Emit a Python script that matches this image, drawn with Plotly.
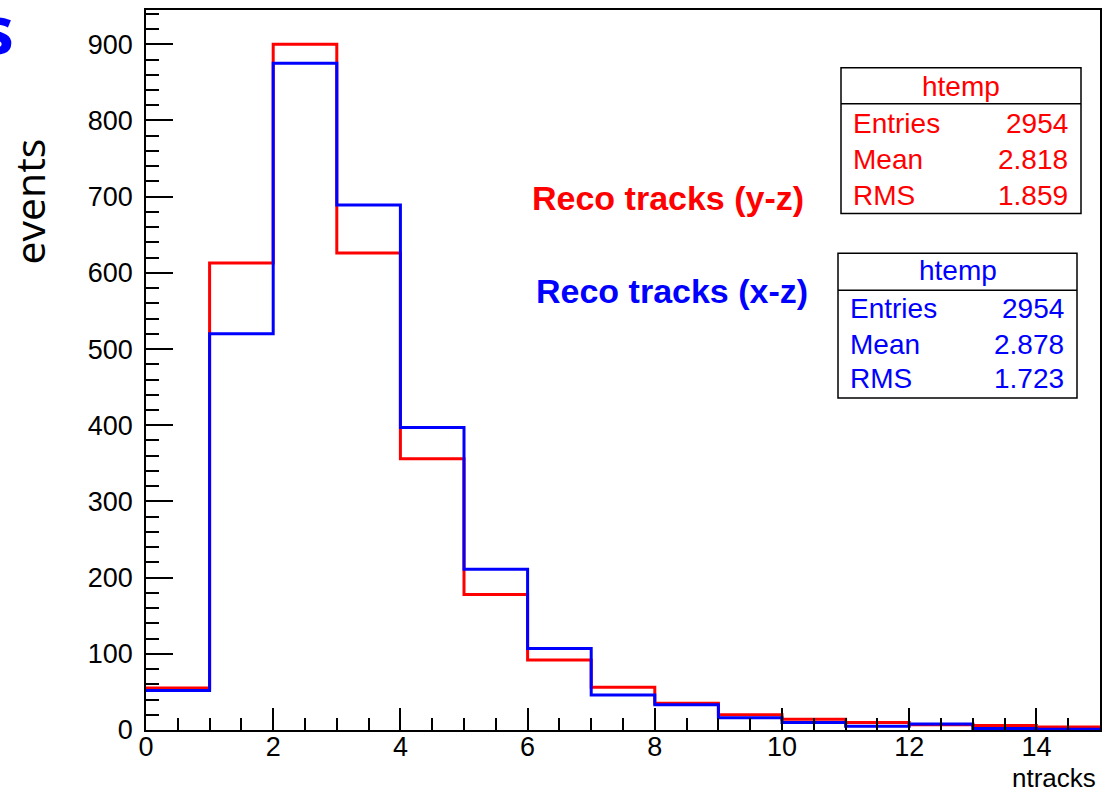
import plotly.graph_objects as go

# Histogram binning: unit-width bins from 0 to 15
bin_edges = list(range(0, 16))

# Bin contents for the two track reconstructions
counts_yz = [55, 613, 900, 626, 356, 178, 92, 56, 35, 20, 14, 10, 7, 6, 4]
counts_xz = [52, 520, 875, 689, 397, 211, 107, 46, 33, 16, 10, 5, 8, 2, 1]

# Statistics box contents
stat_labels = ["Entries", "Mean", "RMS"]
stats_yz = ["2954", "2.818", "1.859"]
stats_xz = ["2954", "2.878", "1.723"]

RED = "#ff0000"
BLUE = "#0000ff"

# Frame geometry in pixels
W_FIG, H_FIG = 1113, 794
L, R, T, B = 146, 1100, 8, 730


def px(x):
    return (x - L) / (R - L)


def py(y):
    return (B - y) / (B - T)


def step_xy(edges, vals):
    xs = list(edges[:-1]) + [edges[-1]]
    ys = list(vals) + [vals[-1]]
    return xs, ys


fig = go.Figure()
for vals, col in ((counts_yz, RED), (counts_xz, BLUE)):
    xs, ys = step_xy(bin_edges, vals)
    fig.add_trace(go.Scatter(x=xs, y=ys, mode="lines", line_shape="hv",
                             line=dict(color=col, width=3), showlegend=False,
                             hoverinfo="skip"))

tick_font = dict(family="Liberation Sans, Arial, sans-serif", size=27, color="black")

fig.update_layout(
    width=W_FIG, height=H_FIG,
    margin=dict(l=L, r=W_FIG - R, t=T, b=H_FIG - B, pad=0),
    paper_bgcolor="white", plot_bgcolor="white",
    xaxis=dict(range=[0, 15], tickmode="linear", tick0=0, dtick=2,
               ticks="inside", ticklen=22, tickwidth=1.5, tickcolor="black",
               minor=dict(dtick=0.5, ticks="inside", ticklen=12, tickwidth=1.5,
                          tickcolor="black"),
               showline=True, linecolor="black", linewidth=1.5, mirror=True,
               showgrid=False, zeroline=False, tickfont=tick_font,
               ticklabelstandoff=-8),
    yaxis=dict(range=[0, 945], tickmode="linear", tick0=0, dtick=100,
               ticks="inside", ticklen=27, tickwidth=1.5, tickcolor="black",
               minor=dict(dtick=20, ticks="inside", ticklen=13, tickwidth=1.5,
                          tickcolor="black"),
               showline=True, linecolor="black", linewidth=1.5, mirror=True,
               showgrid=False, zeroline=False, tickfont=tick_font,
               ticklabelstandoff=6),
)

shapes = []
annotations = []


def stat_box(x0, y0, x1, y1, yline, col, hx, hy, rows_y, lx, rx, values):
    shapes.append(dict(type="rect", xref="paper", yref="paper",
                       x0=px(x0), x1=px(x1), y0=py(y1), y1=py(y0),
                       fillcolor="white", line=dict(color="black", width=1.5),
                       layer="above"))
    shapes.append(dict(type="line", xref="paper", yref="paper",
                       x0=px(x0), x1=px(x1), y0=py(yline), y1=py(yline),
                       line=dict(color="black", width=1.5), layer="above"))
    f = dict(family="Liberation Sans, Arial, sans-serif", size=28, color=col)
    annotations.append(dict(text="htemp", x=px(hx), y=py(hy), xref="paper",
                            yref="paper", showarrow=False, font=f,
                            xanchor="center", yanchor="middle"))
    for lab, val, yy in zip(stat_labels, values, rows_y):
        annotations.append(dict(text=lab, x=px(lx), y=py(yy), xref="paper",
                                yref="paper", showarrow=False, font=f,
                                xanchor="left", yanchor="middle"))
        annotations.append(dict(text=val, x=px(rx), y=py(yy), xref="paper",
                                yref="paper", showarrow=False, font=f,
                                xanchor="right", yanchor="middle"))


stat_box(841, 66, 1081, 212, 102, RED, 961, 85, [122, 158, 194], 851, 1070, stats_yz)
stat_box(838, 252, 1077, 397, 289, BLUE, 958, 269, [307, 343, 378], 848, 1066, stats_xz)

label_font = dict(family="Liberation Sans, Arial, sans-serif", size=34)
annotations.append(dict(text="<b>Reco tracks (y-z)</b>", x=px(668), y=py(197),
                        xref="paper", yref="paper", showarrow=False,
                        font=dict(label_font, color=RED),
                        xanchor="center", yanchor="middle"))
annotations.append(dict(text="<b>Reco tracks (x-z)</b>", x=px(672), y=py(290),
                        xref="paper", yref="paper", showarrow=False,
                        font=dict(label_font, color=BLUE),
                        xanchor="center", yanchor="middle"))

# Axis titles
annotations.append(dict(text="ntracks", x=px(1098), y=py(778), xref="paper",
                        yref="paper", showarrow=False,
                        font=dict(family="Liberation Sans, Arial, sans-serif",
                                  size=26, color="black"),
                        xanchor="right", yanchor="middle"))
annotations.append(dict(text="events", x=px(29), y=py(200), xref="paper",
                        yref="paper", showarrow=False, textangle=-90,
                        font=dict(family="Open Sans, sans-serif", size=41,
                                  color="black"),
                        xanchor="center", yanchor="middle"))

# Trailing letter of a slide heading at the top-left edge
annotations.append(dict(text="<b>s</b>", x=px(16), y=py(26), xref="paper",
                        yref="paper", showarrow=False,
                        font=dict(family="Open Sans, sans-serif", size=66,
                                  color=BLUE),
                        xanchor="right", yanchor="middle"))

fig.update_layout(shapes=shapes, annotations=annotations)
fig.write_html("out.html")
